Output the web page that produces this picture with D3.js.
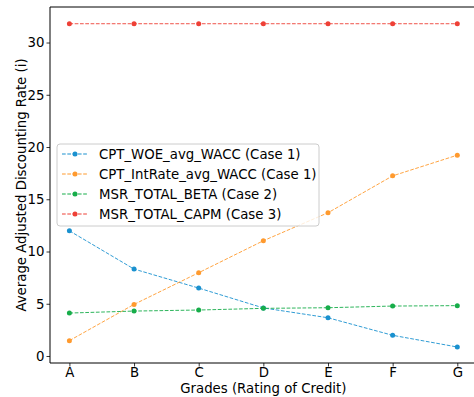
<!DOCTYPE html>
<html>
<head>
<meta charset="utf-8">
<script src="https://cdn.jsdelivr.net/npm/d3@7"></script>
<style>
  body { margin: 0; background: #fff; }
  svg { font-family: "DejaVu Sans", sans-serif; }
</style>
</head>
<body>
<script>
const grades = ['A', 'B', 'C', 'D', 'E', 'F', 'G']
const woeWacc = [11.98, 8.32, 6.50, 4.60, 3.66, 1.98, 0.86]
const intRateWacc = [1.47, 4.94, 7.97, 11.03, 13.71, 17.24, 19.22]
const totalBeta = [4.11, 4.30, 4.40, 4.56, 4.62, 4.78, 4.82]
const totalCapm = [31.8, 31.8, 31.8, 31.8, 31.8, 31.8, 31.8]
const yTicks = [0, 5, 10, 15, 20, 25, 30]

const series = [
  { name: 'CPT_WOE_avg_WACC (Case 1)', values: woeWacc, color: '#1a91cf' },
  { name: 'CPT_IntRate_avg_WACC (Case 1)', values: intRateWacc, color: '#ff9a2e' },
  { name: 'MSR_TOTAL_BETA (Case 2)', values: totalBeta, color: '#17ad4a' },
  { name: 'MSR_TOTAL_CAPM (Case 3)', values: totalCapm, color: '#ee4036' },
]

const width = 474, height = 397
const margin = { top: 7, left: 50, bottom: 34 }
const plotBottom = height - margin.bottom
const fontSize = 13.3

const svg = d3.select('body').append('svg')
  .attr('width', width)
  .attr('height', height)

// matplotlib-like 5% margins on x
const x = d3.scaleLinear()
  .domain([-0.3, grades.length - 1 + 0.3])
  .range([margin.left, 476.7])

const y = d3.scaleLinear()
  .domain([-0.67, 33.4])
  .range([plotBottom, margin.top])

svg.append('g')
  .attr('transform', `translate(0,${plotBottom})`)
  .call(d3.axisBottom(x).tickValues(d3.range(grades.length)).tickFormat(i => grades[i]).tickSizeOuter(0).tickSize(3.5).tickPadding(1))

svg.append('g')
  .attr('transform', `translate(${margin.left},0)`)
  .call(d3.axisLeft(y).tickValues(yTicks).tickSizeOuter(0).tickSize(3.5).tickPadding(2))

svg.selectAll('.domain').remove()
svg.selectAll('.tick text').attr('font-size', fontSize).attr('fill', '#000')
  .attr('font-family', '"DejaVu Sans", sans-serif')
svg.selectAll('.tick line').attr('stroke', '#000').attr('stroke-width', 0.8)

// spines
const spine = (x1, y1, x2, y2) => svg.append('line')
  .attr('x1', x1).attr('y1', y1).attr('x2', x2).attr('y2', y2)
  .attr('stroke', '#000').attr('stroke-width', 1)
spine(margin.left, margin.top, margin.left, plotBottom)
spine(margin.left, plotBottom, width, plotBottom)
spine(margin.left, margin.top, width, margin.top)

const line = d3.line()
  .x((d, i) => x(i))
  .y(d => y(d))

series.forEach(s => {
  svg.append('path')
    .datum(s.values)
    .attr('d', line)
    .attr('fill', 'none')
    .attr('stroke', s.color)
    .attr('stroke-width', 1)
    .attr('stroke-dasharray', '3.7,1.6')
    .attr('opacity', 0.9)

  svg.append('g').selectAll('circle')
    .data(s.values)
    .join('circle')
    .attr('cx', (d, i) => x(i))
    .attr('cy', d => y(d))
    .attr('r', 2.5)
    .attr('fill', s.color)
})

// legend
const legend = svg.append('g').attr('transform', 'translate(57,144)')
legend.append('rect')
  .attr('width', 262).attr('height', 82)
  .attr('rx', 3)
  .attr('fill', '#fff').attr('fill-opacity', 0.8)
  .attr('stroke', '#ccc').attr('stroke-width', 1)

series.forEach((s, i) => {
  const row = legend.append('g').attr('transform', `translate(0,${10 + i * 20})`)
  row.append('line')
    .attr('x1', 5).attr('x2', 31)
    .attr('stroke', s.color).attr('stroke-width', 1)
    .attr('stroke-dasharray', '3.7,1.6')
  row.append('circle').attr('cx', 18).attr('r', 2.5).attr('fill', s.color)
  row.append('text')
    .attr('x', 42).attr('dy', '0.35em')
    .attr('font-size', fontSize)
    .text(s.name)
})

// axis labels
svg.append('text')
  .attr('x', (margin.left + 476.7) / 2)
  .attr('y', 393)
  .attr('text-anchor', 'middle')
  .attr('font-size', fontSize)
  .text('Grades (Rating of Credit)')

svg.append('text')
  .attr('transform', `translate(26,${(margin.top + plotBottom) / 2}) rotate(-90)`)
  .attr('text-anchor', 'middle')
  .attr('font-size', fontSize)
  .text('Average Adjusted Discounting Rate (i)')
</script>
</body>
</html>
